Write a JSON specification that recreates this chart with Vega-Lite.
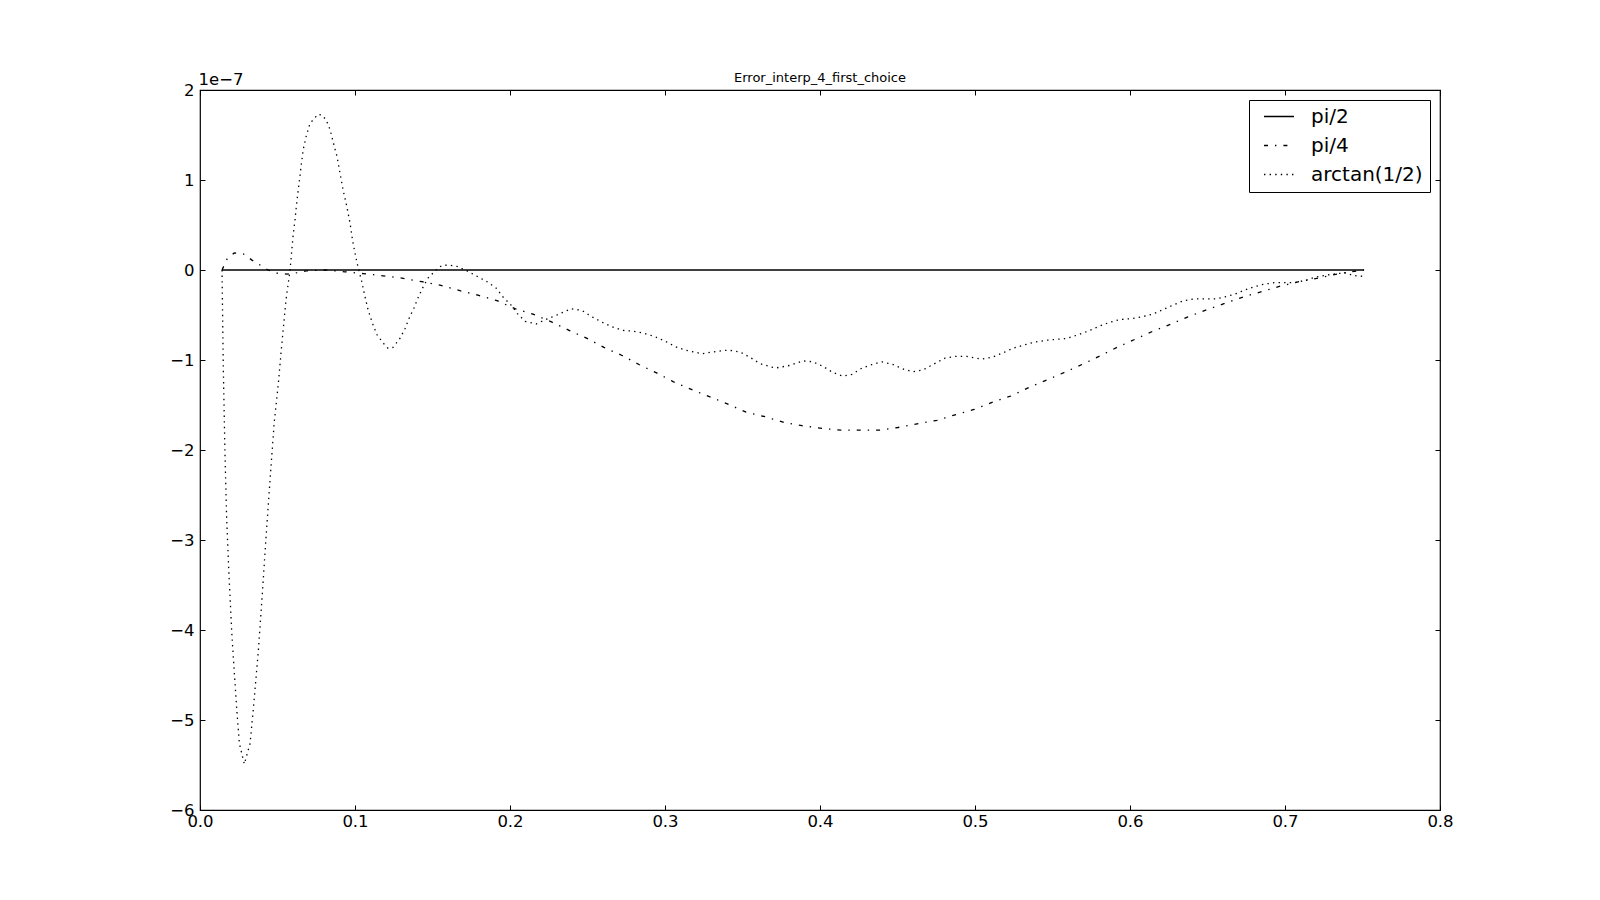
{
  "$schema": "https://vega.github.io/schema/vega-lite/v6.json",
  "width": 1240,
  "height": 720,
  "autosize": {"type": "none"},
  "padding": {"left": 200, "top": 90, "right": 160, "bottom": 90},
  "background": "white",
  "config": {
    "view": {"stroke": "black", "strokeWidth": 1.2},
    "font": "DejaVu Sans",
    "axis": {"grid": false, "domain": false, "tickColor": "black", "tickSize": -5, "tickWidth": 1, "labelColor": "black", "labelFont": "DejaVu Sans", "labelFontSize": 16.5, "labelPadding": 11}
  },
  "title": {"text": "Error_interp_4_first_choice", "fontSize": 13, "fontWeight": "normal", "font": "DejaVu Sans", "anchor": "middle", "offset": -14, "color": "black"},
  "datasets": {
    "curves": [
      {"series": "pi/2", "x": 0.0142, "y": 0},
      {"series": "pi/2", "x": 0.751, "y": 0},
      {"series": "pi/4", "x": 0.0142, "y": 0},
      {"series": "pi/4", "x": 0.0174, "y": 0.12},
      {"series": "pi/4", "x": 0.0221, "y": 0.19},
      {"series": "pi/4", "x": 0.0279, "y": 0.18},
      {"series": "pi/4", "x": 0.0335, "y": 0.11},
      {"series": "pi/4", "x": 0.0387, "y": 0.055},
      {"series": "pi/4", "x": 0.0439, "y": 0},
      {"series": "pi/4", "x": 0.0497, "y": -0.035},
      {"series": "pi/4", "x": 0.0561, "y": -0.045},
      {"series": "pi/4", "x": 0.0626, "y": -0.03},
      {"series": "pi/4", "x": 0.0684, "y": -0.01},
      {"series": "pi/4", "x": 0.0806, "y": 0},
      {"series": "pi/4", "x": 0.0935, "y": -0.02},
      {"series": "pi/4", "x": 0.1052, "y": -0.04},
      {"series": "pi/4", "x": 0.1181, "y": -0.065},
      {"series": "pi/4", "x": 0.1303, "y": -0.09},
      {"series": "pi/4", "x": 0.1432, "y": -0.13},
      {"series": "pi/4", "x": 0.1548, "y": -0.167},
      {"series": "pi/4", "x": 0.1677, "y": -0.23},
      {"series": "pi/4", "x": 0.1794, "y": -0.28},
      {"series": "pi/4", "x": 0.1916, "y": -0.34},
      {"series": "pi/4", "x": 0.2032, "y": -0.43},
      {"series": "pi/4", "x": 0.2148, "y": -0.49},
      {"series": "pi/4", "x": 0.2271, "y": -0.58},
      {"series": "pi/4", "x": 0.2381, "y": -0.67},
      {"series": "pi/4", "x": 0.2497, "y": -0.76},
      {"series": "pi/4", "x": 0.2606, "y": -0.86},
      {"series": "pi/4", "x": 0.2723, "y": -0.95},
      {"series": "pi/4", "x": 0.2832, "y": -1.05},
      {"series": "pi/4", "x": 0.2942, "y": -1.14},
      {"series": "pi/4", "x": 0.3052, "y": -1.24},
      {"series": "pi/4", "x": 0.3174, "y": -1.33},
      {"series": "pi/4", "x": 0.329, "y": -1.41},
      {"series": "pi/4", "x": 0.3406, "y": -1.49},
      {"series": "pi/4", "x": 0.3523, "y": -1.58},
      {"series": "pi/4", "x": 0.3645, "y": -1.63},
      {"series": "pi/4", "x": 0.3761, "y": -1.69},
      {"series": "pi/4", "x": 0.3884, "y": -1.73},
      {"series": "pi/4", "x": 0.4013, "y": -1.76},
      {"series": "pi/4", "x": 0.4135, "y": -1.78},
      {"series": "pi/4", "x": 0.4258, "y": -1.78},
      {"series": "pi/4", "x": 0.4381, "y": -1.78},
      {"series": "pi/4", "x": 0.4503, "y": -1.75},
      {"series": "pi/4", "x": 0.4626, "y": -1.71},
      {"series": "pi/4", "x": 0.4755, "y": -1.67},
      {"series": "pi/4", "x": 0.4871, "y": -1.61},
      {"series": "pi/4", "x": 0.4994, "y": -1.55},
      {"series": "pi/4", "x": 0.511, "y": -1.47},
      {"series": "pi/4", "x": 0.5232, "y": -1.4},
      {"series": "pi/4", "x": 0.5342, "y": -1.31},
      {"series": "pi/4", "x": 0.5465, "y": -1.22},
      {"series": "pi/4", "x": 0.5574, "y": -1.14},
      {"series": "pi/4", "x": 0.569, "y": -1.05},
      {"series": "pi/4", "x": 0.58, "y": -0.96},
      {"series": "pi/4", "x": 0.5916, "y": -0.86},
      {"series": "pi/4", "x": 0.6032, "y": -0.77},
      {"series": "pi/4", "x": 0.6148, "y": -0.68},
      {"series": "pi/4", "x": 0.6265, "y": -0.6},
      {"series": "pi/4", "x": 0.6374, "y": -0.52},
      {"series": "pi/4", "x": 0.6497, "y": -0.44},
      {"series": "pi/4", "x": 0.6613, "y": -0.37},
      {"series": "pi/4", "x": 0.6729, "y": -0.3},
      {"series": "pi/4", "x": 0.6852, "y": -0.24},
      {"series": "pi/4", "x": 0.6968, "y": -0.18},
      {"series": "pi/4", "x": 0.709, "y": -0.13},
      {"series": "pi/4", "x": 0.7213, "y": -0.09},
      {"series": "pi/4", "x": 0.7335, "y": -0.045},
      {"series": "pi/4", "x": 0.7465, "y": -0.01},
      {"series": "pi/4", "x": 0.751, "y": 0},
      {"series": "arctan(1/2)", "x": 0.0142, "y": 0},
      {"series": "arctan(1/2)", "x": 0.015, "y": -1.05},
      {"series": "arctan(1/2)", "x": 0.0161, "y": -2.03},
      {"series": "arctan(1/2)", "x": 0.0172, "y": -2.76},
      {"series": "arctan(1/2)", "x": 0.0187, "y": -3.39},
      {"series": "arctan(1/2)", "x": 0.0205, "y": -4.03},
      {"series": "arctan(1/2)", "x": 0.0221, "y": -4.46},
      {"series": "arctan(1/2)", "x": 0.0237, "y": -4.88},
      {"series": "arctan(1/2)", "x": 0.0254, "y": -5.26},
      {"series": "arctan(1/2)", "x": 0.0286, "y": -5.49},
      {"series": "arctan(1/2)", "x": 0.0323, "y": -5.26},
      {"series": "arctan(1/2)", "x": 0.0344, "y": -4.88},
      {"series": "arctan(1/2)", "x": 0.0376, "y": -4.24},
      {"series": "arctan(1/2)", "x": 0.0402, "y": -3.6},
      {"series": "arctan(1/2)", "x": 0.0426, "y": -2.97},
      {"series": "arctan(1/2)", "x": 0.0452, "y": -2.33},
      {"series": "arctan(1/2)", "x": 0.0479, "y": -1.69},
      {"series": "arctan(1/2)", "x": 0.0505, "y": -1.27},
      {"series": "arctan(1/2)", "x": 0.0527, "y": -0.84},
      {"series": "arctan(1/2)", "x": 0.0555, "y": -0.33},
      {"series": "arctan(1/2)", "x": 0.0581, "y": 0},
      {"series": "arctan(1/2)", "x": 0.06, "y": 0.37},
      {"series": "arctan(1/2)", "x": 0.0613, "y": 0.56},
      {"series": "arctan(1/2)", "x": 0.0626, "y": 0.78},
      {"series": "arctan(1/2)", "x": 0.0639, "y": 0.96},
      {"series": "arctan(1/2)", "x": 0.0652, "y": 1.15},
      {"series": "arctan(1/2)", "x": 0.0665, "y": 1.33},
      {"series": "arctan(1/2)", "x": 0.0684, "y": 1.48},
      {"series": "arctan(1/2)", "x": 0.071, "y": 1.63},
      {"series": "arctan(1/2)", "x": 0.0761, "y": 1.73},
      {"series": "arctan(1/2)", "x": 0.0787, "y": 1.72},
      {"series": "arctan(1/2)", "x": 0.0813, "y": 1.67},
      {"series": "arctan(1/2)", "x": 0.0839, "y": 1.56},
      {"series": "arctan(1/2)", "x": 0.0858, "y": 1.43},
      {"series": "arctan(1/2)", "x": 0.0884, "y": 1.26},
      {"series": "arctan(1/2)", "x": 0.0903, "y": 1.08},
      {"series": "arctan(1/2)", "x": 0.0923, "y": 0.89},
      {"series": "arctan(1/2)", "x": 0.0948, "y": 0.7},
      {"series": "arctan(1/2)", "x": 0.0968, "y": 0.52},
      {"series": "arctan(1/2)", "x": 0.0987, "y": 0.3},
      {"series": "arctan(1/2)", "x": 0.1013, "y": 0.08},
      {"series": "arctan(1/2)", "x": 0.1045, "y": -0.14},
      {"series": "arctan(1/2)", "x": 0.1065, "y": -0.3},
      {"series": "arctan(1/2)", "x": 0.1084, "y": -0.44},
      {"series": "arctan(1/2)", "x": 0.111, "y": -0.58},
      {"series": "arctan(1/2)", "x": 0.1142, "y": -0.72},
      {"series": "arctan(1/2)", "x": 0.1181, "y": -0.81},
      {"series": "arctan(1/2)", "x": 0.1213, "y": -0.87},
      {"series": "arctan(1/2)", "x": 0.1245, "y": -0.86},
      {"series": "arctan(1/2)", "x": 0.129, "y": -0.76},
      {"series": "arctan(1/2)", "x": 0.1323, "y": -0.65},
      {"series": "arctan(1/2)", "x": 0.1348, "y": -0.54},
      {"series": "arctan(1/2)", "x": 0.1381, "y": -0.42},
      {"series": "arctan(1/2)", "x": 0.1406, "y": -0.31},
      {"series": "arctan(1/2)", "x": 0.1439, "y": -0.19},
      {"series": "arctan(1/2)", "x": 0.1471, "y": -0.09},
      {"series": "arctan(1/2)", "x": 0.1523, "y": 0},
      {"series": "arctan(1/2)", "x": 0.1561, "y": 0.05},
      {"series": "arctan(1/2)", "x": 0.16, "y": 0.055},
      {"series": "arctan(1/2)", "x": 0.1658, "y": 0.04},
      {"series": "arctan(1/2)", "x": 0.1723, "y": -0.01},
      {"series": "arctan(1/2)", "x": 0.1787, "y": -0.07},
      {"series": "arctan(1/2)", "x": 0.1852, "y": -0.13},
      {"series": "arctan(1/2)", "x": 0.191, "y": -0.2},
      {"series": "arctan(1/2)", "x": 0.1955, "y": -0.3},
      {"series": "arctan(1/2)", "x": 0.2013, "y": -0.4},
      {"series": "arctan(1/2)", "x": 0.2045, "y": -0.48},
      {"series": "arctan(1/2)", "x": 0.2097, "y": -0.57},
      {"series": "arctan(1/2)", "x": 0.2168, "y": -0.6},
      {"series": "arctan(1/2)", "x": 0.2245, "y": -0.54},
      {"series": "arctan(1/2)", "x": 0.2303, "y": -0.5},
      {"series": "arctan(1/2)", "x": 0.2394, "y": -0.43},
      {"series": "arctan(1/2)", "x": 0.2465, "y": -0.45},
      {"series": "arctan(1/2)", "x": 0.2529, "y": -0.52},
      {"series": "arctan(1/2)", "x": 0.2594, "y": -0.58},
      {"series": "arctan(1/2)", "x": 0.2658, "y": -0.63},
      {"series": "arctan(1/2)", "x": 0.2723, "y": -0.67},
      {"series": "arctan(1/2)", "x": 0.2794, "y": -0.68},
      {"series": "arctan(1/2)", "x": 0.2858, "y": -0.7},
      {"series": "arctan(1/2)", "x": 0.2935, "y": -0.74},
      {"series": "arctan(1/2)", "x": 0.3, "y": -0.79},
      {"series": "arctan(1/2)", "x": 0.3065, "y": -0.85},
      {"series": "arctan(1/2)", "x": 0.3129, "y": -0.89},
      {"series": "arctan(1/2)", "x": 0.3239, "y": -0.93},
      {"series": "arctan(1/2)", "x": 0.331, "y": -0.91},
      {"series": "arctan(1/2)", "x": 0.3406, "y": -0.89},
      {"series": "arctan(1/2)", "x": 0.3484, "y": -0.91},
      {"series": "arctan(1/2)", "x": 0.3548, "y": -0.97},
      {"series": "arctan(1/2)", "x": 0.3613, "y": -1.04},
      {"series": "arctan(1/2)", "x": 0.371, "y": -1.09},
      {"series": "arctan(1/2)", "x": 0.3806, "y": -1.06},
      {"series": "arctan(1/2)", "x": 0.389, "y": -1.01},
      {"series": "arctan(1/2)", "x": 0.3955, "y": -1.02},
      {"series": "arctan(1/2)", "x": 0.4019, "y": -1.07},
      {"series": "arctan(1/2)", "x": 0.4084, "y": -1.14},
      {"series": "arctan(1/2)", "x": 0.4148, "y": -1.18},
      {"series": "arctan(1/2)", "x": 0.4206, "y": -1.16},
      {"series": "arctan(1/2)", "x": 0.4271, "y": -1.09},
      {"series": "arctan(1/2)", "x": 0.4335, "y": -1.05},
      {"series": "arctan(1/2)", "x": 0.44, "y": -1.02},
      {"series": "arctan(1/2)", "x": 0.4471, "y": -1.05},
      {"series": "arctan(1/2)", "x": 0.4535, "y": -1.1},
      {"series": "arctan(1/2)", "x": 0.46, "y": -1.13},
      {"series": "arctan(1/2)", "x": 0.4665, "y": -1.11},
      {"series": "arctan(1/2)", "x": 0.4729, "y": -1.05},
      {"series": "arctan(1/2)", "x": 0.4806, "y": -0.98},
      {"series": "arctan(1/2)", "x": 0.4871, "y": -0.96},
      {"series": "arctan(1/2)", "x": 0.4948, "y": -0.96},
      {"series": "arctan(1/2)", "x": 0.5045, "y": -0.99},
      {"series": "arctan(1/2)", "x": 0.511, "y": -0.97},
      {"series": "arctan(1/2)", "x": 0.5181, "y": -0.92},
      {"series": "arctan(1/2)", "x": 0.5245, "y": -0.87},
      {"series": "arctan(1/2)", "x": 0.5323, "y": -0.83},
      {"series": "arctan(1/2)", "x": 0.5387, "y": -0.8},
      {"series": "arctan(1/2)", "x": 0.5465, "y": -0.78},
      {"series": "arctan(1/2)", "x": 0.5594, "y": -0.76},
      {"series": "arctan(1/2)", "x": 0.5665, "y": -0.72},
      {"series": "arctan(1/2)", "x": 0.5729, "y": -0.68},
      {"series": "arctan(1/2)", "x": 0.5794, "y": -0.63},
      {"series": "arctan(1/2)", "x": 0.5871, "y": -0.58},
      {"series": "arctan(1/2)", "x": 0.5935, "y": -0.55},
      {"series": "arctan(1/2)", "x": 0.6013, "y": -0.54},
      {"series": "arctan(1/2)", "x": 0.6077, "y": -0.52},
      {"series": "arctan(1/2)", "x": 0.6148, "y": -0.49},
      {"series": "arctan(1/2)", "x": 0.6213, "y": -0.44},
      {"series": "arctan(1/2)", "x": 0.6277, "y": -0.39},
      {"series": "arctan(1/2)", "x": 0.6348, "y": -0.34},
      {"series": "arctan(1/2)", "x": 0.6419, "y": -0.32},
      {"series": "arctan(1/2)", "x": 0.6561, "y": -0.32},
      {"series": "arctan(1/2)", "x": 0.6632, "y": -0.29},
      {"series": "arctan(1/2)", "x": 0.669, "y": -0.26},
      {"series": "arctan(1/2)", "x": 0.6729, "y": -0.23},
      {"series": "arctan(1/2)", "x": 0.6794, "y": -0.19},
      {"series": "arctan(1/2)", "x": 0.6858, "y": -0.16},
      {"series": "arctan(1/2)", "x": 0.6935, "y": -0.14},
      {"series": "arctan(1/2)", "x": 0.7065, "y": -0.14},
      {"series": "arctan(1/2)", "x": 0.7142, "y": -0.11},
      {"series": "arctan(1/2)", "x": 0.7194, "y": -0.08},
      {"series": "arctan(1/2)", "x": 0.7258, "y": -0.06},
      {"series": "arctan(1/2)", "x": 0.7335, "y": -0.04},
      {"series": "arctan(1/2)", "x": 0.74, "y": -0.03},
      {"series": "arctan(1/2)", "x": 0.7432, "y": -0.06},
      {"series": "arctan(1/2)", "x": 0.7503, "y": -0.07}
    ]
  },
  "layer": [
    {
      "data": {"name": "curves"},
      "mark": {"type": "line", "color": "black", "strokeWidth": 1.3},
      "encoding": {
        "x": {"field": "x", "type": "quantitative", "scale": {"domain": [0, 0.8], "nice": false, "zero": false},
              "axis": {"orient": "bottom", "title": null, "values": [0, 0.1, 0.2, 0.3, 0.4, 0.5, 0.6, 0.7, 0.8], "format": ".1f", "labelFlush": false, "labelOverlap": false, "labelPadding": 8}},
        "y": {"field": "y", "type": "quantitative", "scale": {"domain": [-6, 2], "nice": false, "zero": false},
              "axis": {"orient": "left", "values": [-6, -5, -4, -3, -2, -1, 0, 1, 2], "format": "d", "labelFlush": false, "labelOverlap": false,
                       "title": "1e\u22127", "titleAngle": 0, "titleAlign": "left", "titleBaseline": "alphabetic", "titleX": -2, "titleY": -6, "titleFontSize": 16.5, "titleFontWeight": "normal", "titleFont": "DejaVu Sans", "titleColor": "black"}},
        "strokeDash": {"field": "series", "type": "nominal",
                       "scale": {"domain": ["pi/2", "pi/4", "arctan(1/2)"], "range": [[1, 0], [4, 7, 1.4, 7], [1.4, 4.2]]},
                       "legend": {"title": null, "orient": "none", "legendX": 1049, "legendY": 10, "strokeColor": "black", "fillColor": "white", "padding": 7, "symbolOffset": 7, "labelOffset": 16, "rowPadding": 8, "clipHeight": 19, "labelFontSize": 20, "labelFont": "DejaVu Sans", "labelColor": "black", "symbolType": "stroke", "symbolSize": 900, "symbolStrokeWidth": 1.3, "symbolStrokeColor": "black", "cornerRadius": 0}}
      }
    },
    {
      "data": {"name": "curves"},
      "mark": {"type": "point", "opacity": 0},
      "encoding": {
        "x": {"field": "x", "type": "quantitative", "axis": {"orient": "top", "title": null, "labels": false, "values": [0, 0.1, 0.2, 0.3, 0.4, 0.5, 0.6, 0.7, 0.8]}},
        "y": {"field": "y", "type": "quantitative", "axis": {"orient": "right", "title": null, "labels": false, "values": [-6, -5, -4, -3, -2, -1, 0, 1, 2]}}
      }
    }
  ],
  "resolve": {"axis": {"x": "independent", "y": "independent"}}
}
